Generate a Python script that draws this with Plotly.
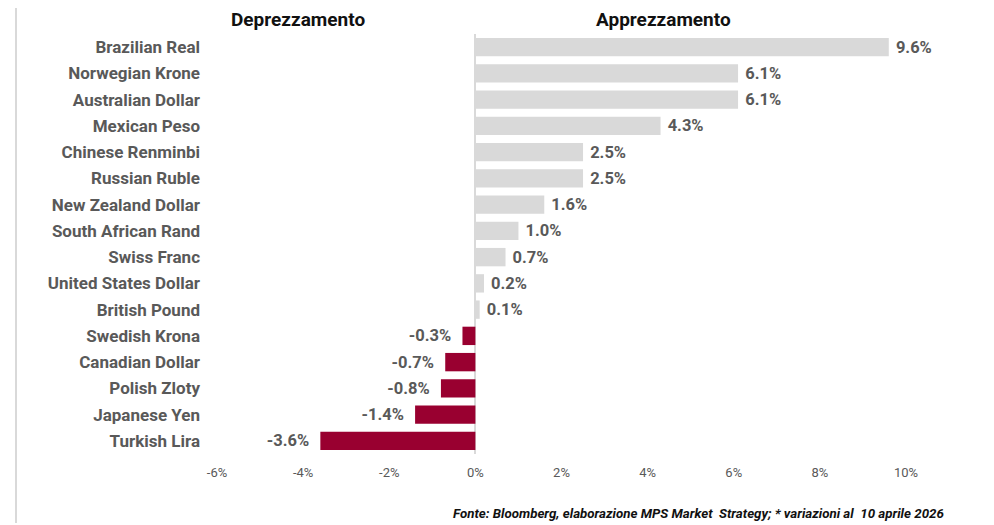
import plotly.graph_objects as go

categories = ["Brazilian Real", "Norwegian Krone", "Australian Dollar", "Mexican Peso",
              "Chinese Renminbi", "Russian Ruble", "New Zealand Dollar", "South African Rand",
              "Swiss Franc", "United States Dollar", "British Pound", "Swedish Krona",
              "Canadian Dollar", "Polish Zloty", "Japanese Yen", "Turkish Lira"]
values = [9.6, 6.1, 6.1, 4.3, 2.5, 2.5, 1.6, 1.0, 0.7, 0.2, 0.1, -0.3, -0.7, -0.8, -1.4, -3.6]
tick_vals = [-6, -4, -2, 0, 2, 4, 6, 8, 10]
tick_text = ["-6%", "-4%", "-2%", "0%", "2%", "4%", "6%", "8%", "10%"]

GRAY_BAR = "#d9d9d9"
RED_BAR = "#990030"
colors = [GRAY_BAR if v >= 0 else RED_BAR for v in values]
labels = [("\u00a0" + f"{v:.1f}%") if v >= 0 else (f"{v:.1f}%" + "\u00a0\u00a0") for v in values]

# page body has an 8px margin: figure coordinates = screen coordinates - 8
OFF = 8
W, H = 986, 517
L, R, T, B = 209, 88, 26, 71
pw, ph = W - L - R, H - T - B
def px(x):
    return (x - OFF - L) / pw
def py(y):
    return (H - B - (y - OFF)) / ph

fig = go.Figure(go.Bar(
    x=values, y=categories, orientation="h",
    marker=dict(color=colors, line=dict(width=0)),
    width=0.7,
    text=labels,
    textposition="outside",
    textfont=dict(family="Roboto", size=16.5, color="#595959", weight="bold"),
    constraintext="none",
    cliponaxis=False,
))

fig.update_layout(
    width=W, height=H,
    margin=dict(l=L, r=R, t=T, b=B, pad=0),
    plot_bgcolor="white", paper_bgcolor="white",
    showlegend=False,
    xaxis=dict(range=[-6, 10], tickvals=tick_vals, ticktext=tick_text,
               showgrid=False, zeroline=True, zerolinecolor="#d9d9d9", zerolinewidth=1.5,
               tickfont=dict(family="Roboto", size=13, color="#595959"),
               ticks="", ticklabelstandoff=9, showline=False, fixedrange=True),
    yaxis=dict(autorange="reversed", showgrid=False, ticks="",
               tickfont=dict(family="Roboto", size=17, color="#595959", weight="bold"),
               ticklabelstandoff=16, showline=False),
    shapes=[
        dict(type="line", xref="paper", yref="paper", x0=px(16), x1=px(16), y0=py(8), y1=py(523),
             line=dict(color="#d9d9d9", width=2)),
        dict(type="line", xref="paper", yref="paper", x0=px(992.5), x1=px(992.5), y0=py(8), y1=py(523),
             line=dict(color="#eeeeee", width=1)),
    ],
    annotations=[
        dict(text="<b>Deprezzamento</b>", xref="paper", yref="paper", x=px(298), y=py(19.5),
             showarrow=False, xanchor="center", yanchor="middle",
             font=dict(family="Roboto", size=19, color="#111111")),
        dict(text="<b>Apprezzamento</b>", xref="paper", yref="paper", x=px(663), y=py(19.5),
             showarrow=False, xanchor="center", yanchor="middle",
             font=dict(family="Roboto", size=19, color="#111111")),
        dict(text="<b><i>Fonte: Bloomberg, elaborazione MPS Market  Strategy; * variazioni al  10 aprile 2026</i></b>",
             xref="paper", yref="paper", x=px(946), y=py(513),
             showarrow=False, xanchor="right", yanchor="middle",
             font=dict(family="Roboto", size=13.3, color="#111111")),
    ],
)

fig.write_html("out.html")
